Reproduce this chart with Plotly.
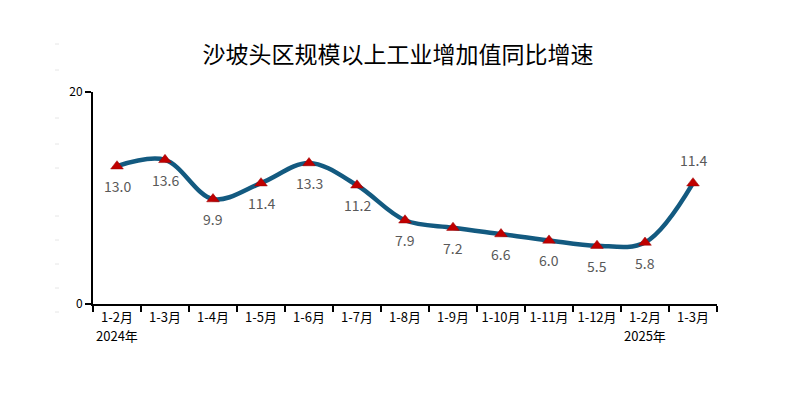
import plotly.graph_objects as go

categories = ["1-2月", "1-3月", "1-4月", "1-5月", "1-6月", "1-7月", "1-8月",
              "1-9月", "1-10月", "1-11月", "1-12月", "1-2月 ", "1-3月 "]
tick_labels = ["1-2月", "1-3月", "1-4月", "1-5月", "1-6月", "1-7月", "1-8月",
               "1-9月", "1-10月", "1-11月", "1-12月", "1-2月", "1-3月"]
year_labels = {"1-2月": "2024年", "1-2月 ": "2025年"}
values = [13.0, 13.6, 9.9, 11.4, 13.3, 11.2, 7.9, 7.2, 6.6, 6.0, 5.5, 5.8, 11.4]
label_above = [False] * 12 + [True]

FONT = "Noto Sans CJK SC"
W, H = 780, 390  # page body has an 8px margin

fig = go.Figure()
fig.add_trace(go.Scatter(
    x=categories, y=values,
    mode="lines+markers",
    line=dict(color="#135A80", width=4.5, shape="spline", smoothing=1.0),
    marker=dict(symbol="triangle-up", size=11, color="#C00000",
                line=dict(color="#9A0000", width=0.5)),
    cliponaxis=False,
    hoverinfo="skip",
))

annotations = []
for c, v, above in zip(categories, values, label_above):
    annotations.append(dict(
        x=c, y=v, xref="x", yref="y", text=f"{v:.1f}", showarrow=False,
        yshift=23 if above else -20,
        font=dict(family=FONT, size=14, color="#595959"),
    ))
for c, yl in year_labels.items():
    annotations.append(dict(
        x=c, y=0, xref="x", yref="paper", text=yl, showarrow=False,
        yanchor="top", yshift=-20,
        font=dict(family=FONT, size=13, color="#000000"),
    ))

# faint decorative dashes on the left edge
shapes = []
for yy in [44, 70, 118, 144, 168, 216, 240, 264, 288, 312]:
    shapes.append(dict(type="line", xref="paper", yref="paper",
                       x0=(55 - 93) / 624, x1=(59 - 93) / 624,
                       y0=(304 - yy) / 212, y1=(304 - yy) / 212,
                       line=dict(color="#E6E6E6", width=1)))

fig.update_layout(
    width=W, height=H,
    margin=dict(l=85, r=71, t=84, b=94, autoexpand=False),
    plot_bgcolor="white", paper_bgcolor="white",
    showlegend=False,
    title=dict(text="沙坡头区规模以上工业增加值同比增速", x=0.5, xanchor="center",
               xref="container",
               y=1 - 47 / H, yanchor="middle", yref="container",
               font=dict(family=FONT, size=23, color="#000000")),
    xaxis=dict(
        type="category", tickmode="array", tickvals=categories, ticktext=tick_labels,
        tickson="boundaries", ticks="outside", ticklen=6, tickwidth=2, tickcolor="black",
        showline=True, linecolor="black", linewidth=2, showgrid=False, zeroline=False,
        tickangle=0, automargin=False,
        tickfont=dict(family=FONT, size=13, color="#000000"),
        range=[-0.5, 12.5],
    ),
    yaxis=dict(
        range=[0, 20], tickvals=[0, 20], ticktext=["0", "20"],
        ticks="outside", ticklen=6, tickwidth=2, tickcolor="black",
        showline=True, linecolor="black", linewidth=2, showgrid=False, zeroline=False,
        automargin=False,
        tickfont=dict(family=FONT, size=12, color="#000000"),
    ),
    shapes=shapes,
    annotations=annotations,
)

fig.write_html("out.html")
